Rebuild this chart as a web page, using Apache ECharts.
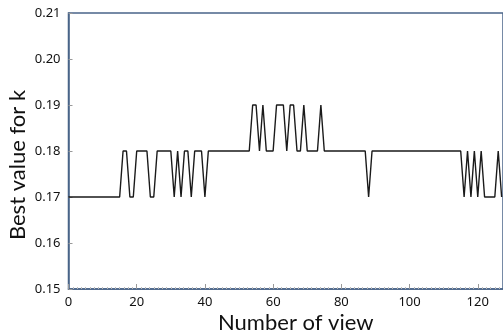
<!DOCTYPE html>
<html>
<head>
<meta charset="utf-8">
<script src="https://cdn.jsdelivr.net/npm/echarts@6/dist/echarts.min.js"></script>
<style>
  html, body { margin: 0; padding: 0; background: #fff; }
  #chart { width: 503px; height: 334px; }
</style>
</head>
<body>
<div id="chart"></div>
<script>
// best k for each view, view number = index
const kValues = [
  0.17, 0.17, 0.17, 0.17, 0.17, 0.17, 0.17, 0.17, 0.17, 0.17,
  0.17, 0.17, 0.17, 0.17, 0.17, 0.17, 0.18, 0.18, 0.17, 0.17,
  0.18, 0.18, 0.18, 0.18, 0.17, 0.17, 0.18, 0.18, 0.18, 0.18,
  0.18, 0.17, 0.18, 0.17, 0.18, 0.18, 0.17, 0.18, 0.18, 0.18,
  0.17, 0.18, 0.18, 0.18, 0.18, 0.18, 0.18, 0.18, 0.18, 0.18,
  0.18, 0.18, 0.18, 0.18, 0.19, 0.19, 0.18, 0.19, 0.18, 0.18,
  0.18, 0.19, 0.19, 0.19, 0.18, 0.19, 0.19, 0.18, 0.18, 0.19,
  0.18, 0.18, 0.18, 0.18, 0.19, 0.18, 0.18, 0.18, 0.18, 0.18,
  0.18, 0.18, 0.18, 0.18, 0.18, 0.18, 0.18, 0.18, 0.17, 0.18,
  0.18, 0.18, 0.18, 0.18, 0.18, 0.18, 0.18, 0.18, 0.18, 0.18,
  0.18, 0.18, 0.18, 0.18, 0.18, 0.18, 0.18, 0.18, 0.18, 0.18,
  0.18, 0.18, 0.18, 0.18, 0.18, 0.18, 0.17, 0.18, 0.17, 0.18,
  0.17, 0.18, 0.17, 0.17, 0.17, 0.17, 0.18, 0.17
];
const xTicks = [0, 20, 40, 60, 80, 100, 120];
const yTicks = [0.15, 0.16, 0.17, 0.18, 0.19, 0.20, 0.21];

const frameColor = '#4a6489';
const chart = echarts.init(document.getElementById('chart'));

chart.setOption({
    animation: false,
    grid: {
        left: 68.5,
        right: 0,
        top: 13,
        bottom: 45,
        outerBoundsMode: 'none',
        containLabel: false,
        show: true,
        borderColor: frameColor,
        borderWidth: 1.5
    },
    xAxis: {
        type: 'value',
        min: 0,
        max: 127.4,
        interval: 20,
        name: 'Number of view',
        nameLocation: 'middle',
        nameGap: 23,
        nameMoveOverlap: false,
        nameTextStyle: { fontFamily: 'Lato', fontSize: 22, color: '#111', padding: [0, 0, 0, 20] },
        axisLine: { show: true, lineStyle: { color: frameColor, width: 1.5 } },
        axisTick: { show: true, inside: true, length: 5, lineStyle: { color: '#999' } },
        minorTick: { show: true, splitNumber: 16, length: 2, lineStyle: { color: '#bbb' } },
        splitLine: { show: false },
        axisLabel: {
            margin: 7,
            fontFamily: 'Noto Sans',
            fontSize: 13,
            color: '#111',
            formatter: (v) => xTicks.includes(v) ? String(v) : ''
        }
    },
    yAxis: {
        type: 'value',
        min: 0.15,
        max: 0.21,
        interval: 0.01,
        name: 'Best value for k',
        nameLocation: 'middle',
        nameGap: 40,
        nameMoveOverlap: false,
        nameTextStyle: { fontFamily: 'Lato', fontSize: 22, color: '#111', padding: [0, 28, 0, 0] },
        axisLine: { show: true, lineStyle: { color: frameColor, width: 1.5 } },
        axisTick: { show: true, inside: true, length: 4, lineStyle: { color: '#999' } },
        splitLine: { show: false },
        axisLabel: {
            margin: 8,
            fontFamily: 'Noto Sans',
            fontSize: 13,
            color: '#111',
            formatter: (v) => {
                let t = yTicks.find((y) => Math.abs(y - v) < 1e-6);
                return t === undefined ? '' : t.toFixed(2);
            }
        }
    },
    series: [{
        type: 'line',
        data: kValues.map((k, i) => [i, k]),
        symbol: 'none',
        lineStyle: { color: '#1a1a1a', width: 1.4 }
    }]
});
</script>
</body>
</html>
